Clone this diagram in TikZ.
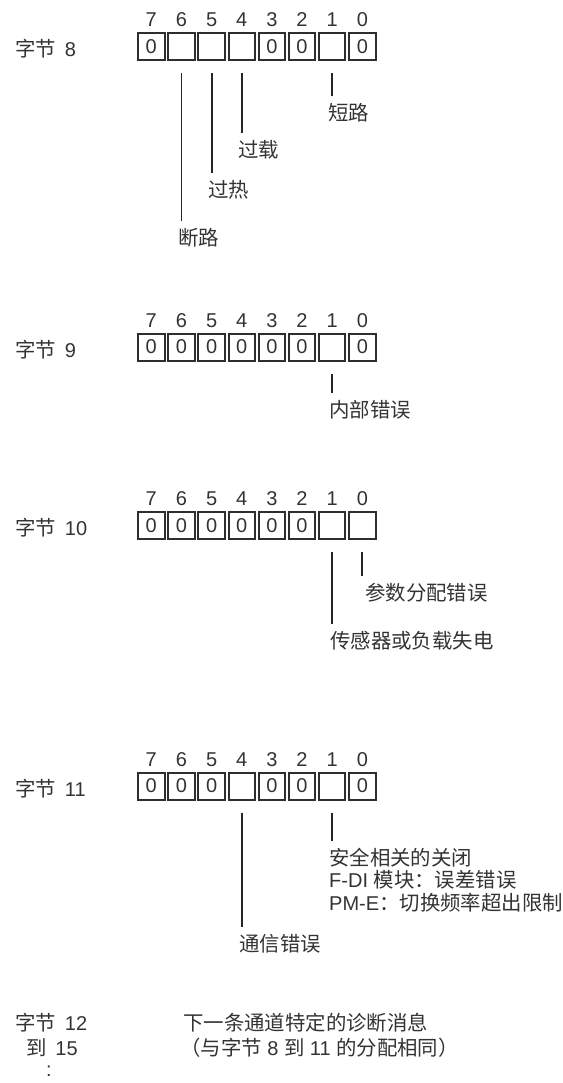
\documentclass[tikz,border=0pt]{standalone}
\usepackage{fontspec}
\setmainfont{Liberation Sans}
\newfontfamily\cjk{Noto Sans CJK SC}[Scale=1.02]
\usetikzlibrary{positioning, calc}

\begin{document}
\begin{tikzpicture}[
    x=1pt, y=-1pt,
    txt/.style={inner sep=0pt, text=black!80,
                font=\fontsize{20}{22.5}\selectfont},
    cellbox/.style={txt, draw=black!82, line width=2pt,
                    minimum width=26.5pt, minimum height=27pt},
    bytelbl/.style={txt, anchor=west},
    note/.style={txt, anchor=west, align=left},
    leader/.style={draw=black!85, line width=1.8pt, shorten >=7pt}
  ]
  \useasboundingbox (0,0) rectangle (562,1083);

  % byte 8
  \node[bytelbl] (by8) at (15,49) {{\cjk 字节}\, 8};
  \foreach \b/\v [count=\k from 0] in {7/0,6/{},5/{},4/{},3/0,2/0,1/{},0/0} {
    \node[cellbox] (b8-\b) at (151.3+30.15*\k,46.5) {\v};
    \node[txt, above=5pt of b8-\b] {\b};
  }
  \node[note] (l8-6) at (178,238) {\cjk 断路};
  \node[note] (l8-5) at (208,190) {\cjk 过热};
  \node[note] (l8-4) at (238,150) {\cjk 过载};
  \node[note] (l8-1) at (328,113) {\cjk 短路};
  \draw[leader] ([yshift=-12pt]b8-6.south) -- (b8-6.south |- l8-6.north);
  \draw[leader] ([yshift=-12pt]b8-5.south) -- (b8-5.south |- l8-5.north);
  \draw[leader] ([yshift=-12pt]b8-4.south) -- (b8-4.south |- l8-4.north);
  \draw[leader] ([yshift=-12pt]b8-1.south) -- (b8-1.south |- l8-1.north);

  % byte 9
  \node[bytelbl] (by9) at (15,349.5) {{\cjk 字节}\, 9};
  \foreach \b/\v [count=\k from 0] in {7/0,6/0,5/0,4/0,3/0,2/0,1/{},0/0} {
    \node[cellbox] (b9-\b) at (151.3+30.15*\k,347) {\v};
    \node[txt, above=5pt of b9-\b] {\b};
  }
  \node[note] (l9-1) at (329,410) {\cjk 内部错误};
  \draw[leader] ([yshift=-12pt]b9-1.south) -- (b9-1.south |- l9-1.north);

  % byte 10
  \node[bytelbl] (by10) at (15,528) {{\cjk 字节}\, 10};
  \foreach \b/\v [count=\k from 0] in {7/0,6/0,5/0,4/0,3/0,2/0,1/{},0/{}} {
    \node[cellbox] (b10-\b) at (151.3+30.15*\k,525.5) {\v};
    \node[txt, above=5pt of b10-\b] {\b};
  }
  \node[note] (l10-0) at (365,593) {\cjk 参数分配错误};
  \node[note] (l10-1) at (330,641) {\cjk 传感器或负载失电};
  \draw[leader] ([yshift=-12pt]b10-0.south) -- (b10-0.south |- l10-0.north);
  \draw[leader] ([yshift=-12pt]b10-1.south) -- (b10-1.south |- l10-1.north);

  % byte 11
  \node[bytelbl] (by11) at (15,789) {{\cjk 字节}\, 11};
  \foreach \b/\v [count=\k from 0] in {7/0,6/0,5/0,4/{},3/0,2/0,1/{},0/0} {
    \node[cellbox] (b11-\b) at (151.3+30.15*\k,786) {\v};
    \node[txt, above=5pt of b11-\b] {\b};
  }
  \node[note] (l11-1) at (329,880)
    {{\cjk 安全相关的关闭}\\F-DI {\cjk 模块：误差错误}\\PM-E{\cjk ：切换频率超出限制}};
  \node[note] (l11-4) at (239,944) {\cjk 通信错误};
  \draw[leader] ([yshift=-12pt]b11-4.south) -- (b11-4.south |- l11-4.north);
  \draw[leader] ([yshift=-12pt]b11-1.south) -- (b11-1.south |- l11-1.north);

  % bytes 12 to 15
  \node[bytelbl] (by12) at (15,1023) {{\cjk 字节}\, 12};
  \node[bytelbl] (to15) at (26,1048) {{\cjk 到}\, 15};
  \node[txt] (dots) at (49,1071) {:};
  \node[note] (nxt) at (183,1023) {\cjk 下一条通道特定的诊断消息};
  \node[note] (same) at (180,1048)
    {{\cjk （与字节} 8 {\cjk 到} 11 {\cjk 的分配相同）}};
\end{tikzpicture}
\end{document}
